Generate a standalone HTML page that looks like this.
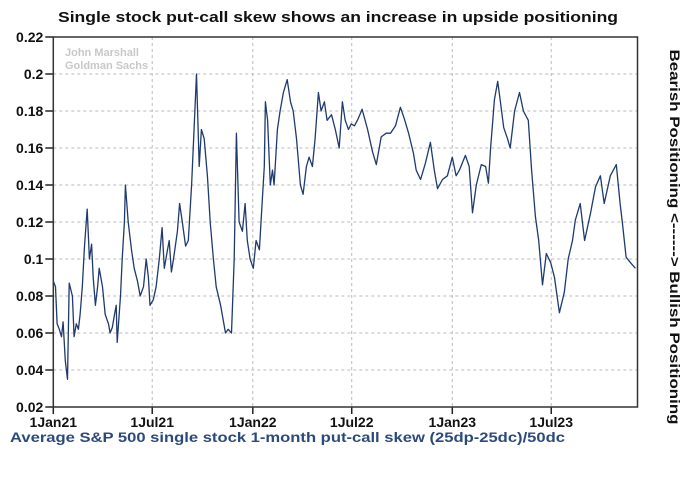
<!DOCTYPE html>
<html><head><meta charset="utf-8"><style>
html,body{margin:0;padding:0;background:#fff;}
svg{display:block;font-family:"Liberation Sans",Arial,sans-serif;}
</style></head><body>
<svg id="chart" width="700" height="477" viewBox="0 0 700 477">
<text x="338" y="22" text-anchor="middle" font-size="15" font-weight="bold" fill="#111" textLength="560" lengthAdjust="spacingAndGlyphs">Single stock put-call skew shows an increase in upside positioning</text>
<g id="grid"></g>
<g id="axes"></g>
<text x="65" y="56" font-size="11" font-weight="bold" fill="#c8c8c8">John Marshall</text>
<text x="65" y="69" font-size="11" font-weight="bold" fill="#c8c8c8">Goldman Sachs</text>
<path id="series" fill="none" stroke="#1f3a6e" stroke-width="1.3" stroke-linejoin="round"/>
<text x="10" y="442" font-size="13.5" font-weight="bold" fill="#2b4a7c" textLength="555" lengthAdjust="spacingAndGlyphs">Average S&amp;P 500 single stock 1-month put-call skew (25dp-25dc)/50dc</text>
<text transform="translate(670,237) rotate(90)" text-anchor="middle" font-size="13.5" font-weight="bold" fill="#111" textLength="375" lengthAdjust="spacingAndGlyphs">Bearish Positioning &lt;------&gt; Bullish Positioning</text>
</svg>
<script>
const yTicks=[0.02,0.04,0.06,0.08,0.1,0.12,0.14,0.16,0.18,0.2,0.22];
const yTickLabels=["0.02","0.04","0.06","0.08","0.1","0.12","0.14","0.16","0.18","0.2","0.22"];
const xTickDays=[0,181,365,546,730,911];
const xTickLabels=["1Jan21","1Jul21","1Jan22","1Jul22","1Jan23","1Jul23"];
const days=[0,4,7,11,15,18,22,26,29,35,38,42,46,49,53,57,62,66,70,73,77,81,84,90,95,101,104,108,112,115,117,123,126,130,132,137,143,148,154,159,165,170,174,177,183,188,194,199,203,209,212,216,220,227,231,236,242,247,253,262,267,271,276,282,287,293,298,306,315,320,326,331,335,340,346,351,355,360,366,371,377,382,386,388,392,397,401,404,410,415,421,428,434,439,445,452,457,463,468,474,479,485,490,496,501,509,516,523,529,534,540,545,551,558,565,575,584,591,600,609,617,626,635,642,650,659,664,672,681,690,697,703,712,721,730,737,743,754,761,767,774,783,791,796,800,807,813,818,824,831,836,844,853,860,869,875,882,888,895,902,910,917,926,935,942,950,955,964,972,983,992,1001,1008,1019,1030,1037,1041,1048,1056,1065];
const skew=[.088,.085,.065,.062,.058,.066,.045,.035,.087,.08,.058,.065,.062,.07,.085,.107,.127,.1,.108,.09,.075,.085,.095,.085,.07,.065,.06,.063,.07,.075,.055,.08,.1,.12,.14,.12,.105,.095,.088,.08,.085,.1,.09,.075,.078,.085,.1,.117,.095,.105,.11,.093,.1,.115,.13,.12,.107,.11,.14,.2,.15,.17,.165,.145,.12,.1,.085,.075,.06,.062,.06,.1,.168,.12,.115,.13,.11,.1,.095,.11,.105,.13,.15,.185,.175,.14,.148,.14,.17,.18,.19,.197,.185,.18,.165,.14,.135,.15,.155,.15,.165,.19,.18,.185,.175,.178,.17,.16,.185,.175,.17,.173,.172,.176,.181,.17,.158,.151,.166,.168,.168,.172,.182,.176,.168,.157,.148,.143,.152,.163,.148,.138,.143,.145,.155,.145,.148,.156,.15,.125,.14,.151,.15,.141,.16,.186,.196,.185,.171,.165,.16,.18,.19,.18,.175,.148,.123,.11,.086,.103,.098,.09,.071,.082,.1,.11,.121,.13,.11,.125,.139,.145,.13,.145,.151,.13,.12,.101,.098,.095];
const L=53.3,R=637.5,T=37,B=407;
const xs=d=>L+d*(199.5/365);
const ys=v=>B-(v-0.02)/0.2*(B-T);
const NS="http://www.w3.org/2000/svg";
const grid=document.getElementById('grid'),axes=document.getElementById('axes');
function mk(tag,attrs,parent){const e=document.createElementNS(NS,tag);for(const k in attrs)e.setAttribute(k,attrs[k]);parent.appendChild(e);return e;}
yTicks.forEach((v,i)=>{
  const y=ys(v);
  if(i>0&&i<yTicks.length-1){const g=mk('line',{x1:L,x2:R,y1:y,y2:y,stroke:'#bbb','stroke-dasharray':'3,3','stroke-width':1},grid);
  
  }
  const t=mk('line',{x1:L-8,x2:L,y1:y,y2:y,stroke:'#222','stroke-width':1.5},axes);
  
  
  const lb=mk('text',{x:L-10,y:y+5,'text-anchor':'end','font-size':14,'font-weight':'bold',fill:'#111'},axes);
  lb.textContent=yTickLabels[i];
  
  
});
xTickDays.forEach((d,i)=>{
  const x=xs(d);
  if(i>0){const g=mk('line',{x1:x,x2:x,y1:T,y2:B,stroke:'#bbb','stroke-dasharray':'3,3','stroke-width':1},grid);
  
  }
  const t=mk('line',{x1:x,x2:x,y1:B,y2:B+7,stroke:'#222','stroke-width':1.5},axes);
  
  
  const lb=mk('text',{x:x,y:B+20,'text-anchor':'middle','font-size':14,'font-weight':'bold',fill:'#111'},axes);
  lb.textContent=xTickLabels[i];
  
  
});
const fr=mk('rect',{x:L,y:T,width:R-L,height:B-T,fill:'none',stroke:'#333','stroke-width':1.5},axes);


let d='';
days.forEach((dd,i)=>{d+=(i?'L':'M')+xs(dd).toFixed(1)+','+ys(skew[i]).toFixed(1);});
document.getElementById('series').setAttribute('d',d);
</script>
</body></html>
